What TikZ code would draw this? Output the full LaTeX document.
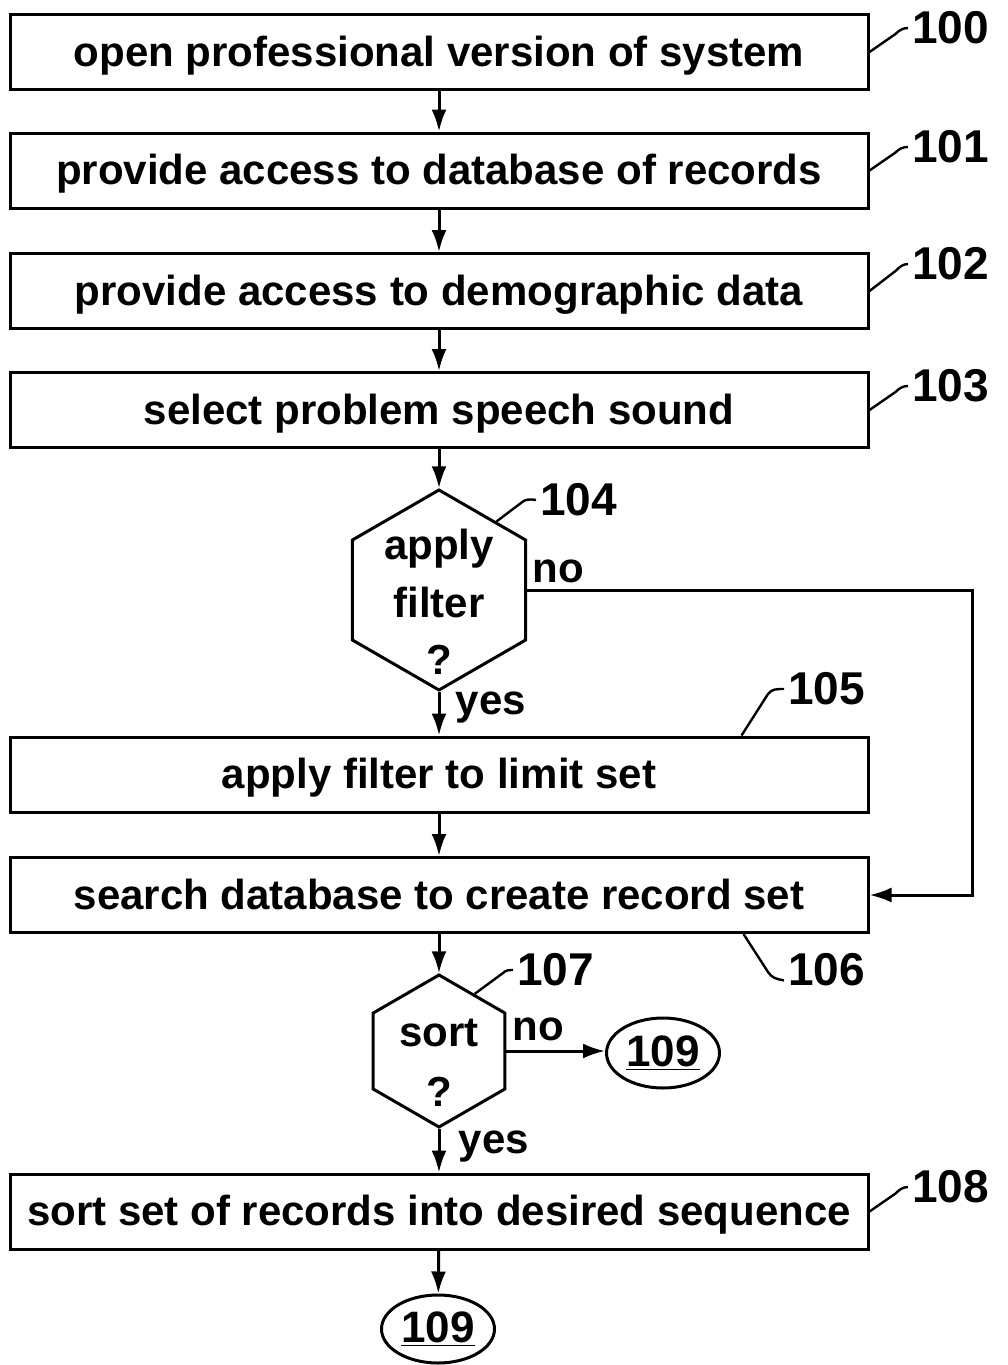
\documentclass[tikz,border=0pt]{standalone}
\usepackage{fontspec}
\setmainfont{Liberation Sans}
\usetikzlibrary{arrows.meta,shapes.geometric,calc}
\pgfdeclarelayer{nodelayer}
\pgfdeclarelayer{edgelayer}
\pgfsetlayers{edgelayer,nodelayer,main}
\tikzstyle{step box}=[fill=white, draw=black, line width=1.5pt, rectangle, minimum width=429pt, minimum height=37.5pt, inner sep=0pt, text height=16pt, text depth=2pt, font=\bfseries\fontsize{21}{28}\selectfont]
\tikzstyle{decision}=[fill=white, draw=black, line width=1.5pt, regular polygon, regular polygon sides=6, shape border rotate=30, inner sep=0pt]
\tikzstyle{decision text}=[align=center, inner sep=0pt, font=\bfseries\fontsize{21}{28.75}\selectfont]
\tikzstyle{terminal}=[fill=white, draw=black, line width=1.5pt, ellipse, minimum width=56.5pt, minimum height=34pt, inner sep=0pt, font=\bfseries\fontsize{22}{26}\selectfont]
\tikzstyle{ref label}=[anchor=west, inner sep=2pt, font=\bfseries\fontsize{23}{26}\selectfont]
\tikzstyle{branch label}=[inner sep=0pt, font=\bfseries\fontsize{21}{26}\selectfont]
\tikzstyle{flow edge}=[line width=1.5pt, -{Latex[length=11pt,width=7.5pt]}]
\tikzstyle{lead line}=[line width=1.2pt]

\begin{document}
\begin{tikzpicture}[x=0.5pt, y=-0.5pt]
    	\useasboundingbox (0, 0) rectangle (1007, 1365);
    	\begin{pgfonlayer}{nodelayer}
    		\node [style=step box] (100) at (439, 52) {open professional version of system};
    		\node [style=step box] (101) at (439, 170.5) {provide access to database of records};
    		\node [style=step box] (102) at (439, 291) {provide access to demographic data};
    		\node [style=step box] (103) at (439, 410) {select problem speech sound};
    		\node [style=decision, minimum size=100pt] (104) at (439, 590) {};
    		\node [style=decision text] (t104) at ([yshift=-6pt]104.center) {apply\\filter\\?};
    		\node [style=step box] (105) at (439, 774.5) {apply filter to limit set};
    		\node [style=step box] (106) at (439, 895) {search database to create record set};
    		\node [style=decision, minimum size=76pt] (107) at (439, 1051) {};
    		\node [style=decision text, font=\bfseries\fontsize{21}{30}\selectfont] (t107) at ([yshift=-6pt]107.center) {sort\\?};
    		\node [style=terminal, minimum height=35pt] (109a) at (663, 1053) {\underline{109}};
    		\node [style=step box] (108) at (439, 1211.5) {sort set of records into desired sequence};
    		\node [style=terminal] (109b) at (438, 1329) {\underline{109}};
    		\node [style=ref label] (n100) at (908, 28) {100};
    		\node [style=ref label] (n101) at (908, 147) {101};
    		\node [style=ref label] (n102) at (908, 264) {102};
    		\node [style=ref label] (n103) at (908, 386) {103};
    		\node [style=ref label] (n104) at (536, 500) {104};
    		\node [style=ref label] (n105) at (784, 689) {105};
    		\node [style=ref label] (n106) at (784, 970) {106};
    		\node [style=ref label] (n107) at (513, 970) {107};
    		\node [style=ref label] (n108) at (908, 1187) {108};
    		\node [style=branch label] (no104) at (558, 571) {no};
    		\node [style=branch label] (yes104) at (491, 708) {yes};
    		\node [style=branch label] (no107) at (538, 1029) {no};
    		\node [style=branch label] (yes107) at (494, 1147) {yes};
    		\coordinate (ret) at (972, 895);
    	\end{pgfonlayer}
    	\begin{pgfonlayer}{edgelayer}
    		\draw [style=flow edge] (100) -- (101);
    		\draw [style=flow edge] (101) -- (102);
    		\draw [style=flow edge] (102) -- (103);
    		\draw [style=flow edge] (103) -- (104);
    		\draw [style=flow edge] (104) -- (105);
    		\draw [style=flow edge] (105) -- (106);
    		\draw [style=flow edge] (104.0) -| (ret) -- (106.east);
    		\draw [style=flow edge] (106) -- (107);
    		\draw [style=flow edge] (107.0) -- (107.0 -| 109a.west);
    		\draw [style=flow edge] (107) -- (108);
    		\draw [style=flow edge] (108) -- (109b);
    		% reference leaders
    		\draw [style=lead line] (100.east) -- ++(26, -18) .. controls +(4, -4) and +(-5, 0) .. (n100.west);
    		\draw [style=lead line] (101.east) -- ++(26, -18) .. controls +(4, -4) and +(-5, 0) .. (n101.west);
    		\draw [style=lead line] (102.east) -- ++(26, -20) .. controls +(4, -4) and +(-5, 0) .. (n102.west);
    		\draw [style=lead line] (103.east) -- ++(26, -18) .. controls +(4, -4) and +(-5, 0) .. (n103.west);
    		\draw [style=lead line] (108.east) -- ++(26, -18) .. controls +(4, -4) and +(-5, 0) .. (n108.west);
    		\draw [style=lead line] (104.50) -- (521, 503) .. controls (525, 499) and (530, 499) .. (n104.west);
    		\draw [style=lead line] (107.58) -- (503, 973) .. controls (506, 970) and (509, 970) .. (n107.west);
    		\draw [style=lead line] ($(105.north east)+(-128, 0)$) -- (768, 694) .. controls (772, 689) and (776, 689) .. (n105.west);
    		\draw [style=lead line] ($(106.south east)+(-126, 0)$) -- (768, 972) .. controls (772, 978) and (776, 979) .. ($(n106.west)!0.5!(n106.south west)$);
    	\end{pgfonlayer}
    \end{tikzpicture}
\end{document}
